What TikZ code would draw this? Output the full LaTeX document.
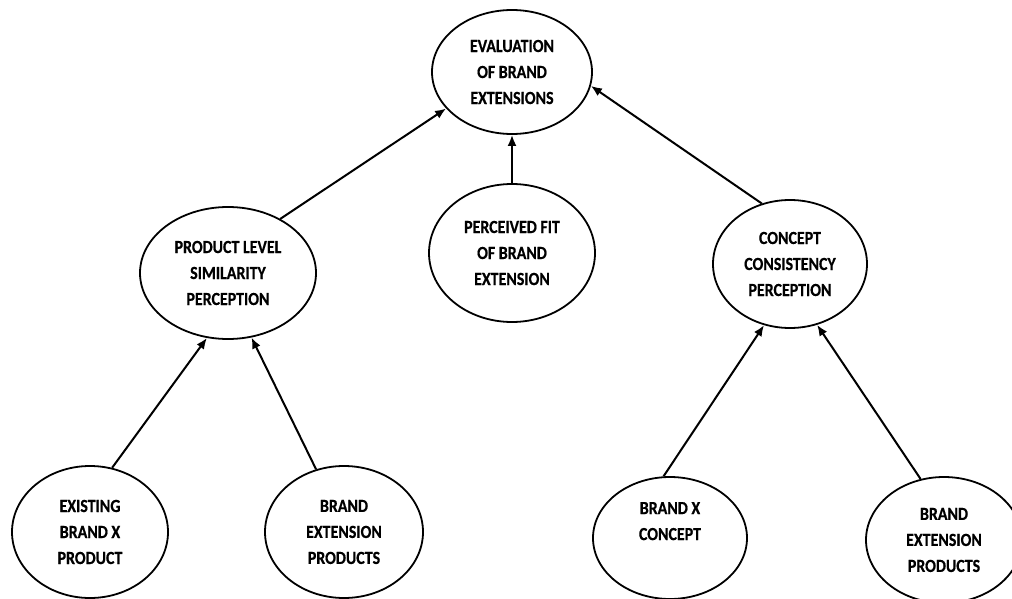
\documentclass[tikz,border=0pt]{standalone}
\usepackage{fontspec}
\setmainfont{Carlito}[FakeStretch=0.86]
\newfontfamily\labelfont{Carlito}[FakeStretch=0.86,FakeBold=0.6,BoldFont={* Bold}]
\usetikzlibrary{shapes.geometric,arrows.meta}
\begin{document}
\begin{tikzpicture}[x=1pt,y=-1pt,
  bubble/.style={draw, ellipse, line width=1.8pt, inner sep=0pt,
    align=center, font=\labelfont\fontsize{18.5}{26}\selectfont\bfseries},
  link/.style={line width=2pt, -{Latex[length=11pt,width=9pt]}}]
\useasboundingbox (0,0) rectangle (1012,599);

% top level
\node[bubble, minimum width=160pt, minimum height=124pt] (eval) at (512,72)
  {EVALUATION\\OF BRAND\\EXTENSIONS};

% middle level
\node[bubble, minimum width=176pt, minimum height=132pt] (prod) at (228,273)
  {PRODUCT LEVEL\\SIMILARITY\\PERCEPTION};
\node[bubble, minimum width=166pt, minimum height=138pt] (fit) at (512,253)
  {PERCEIVED FIT\\OF BRAND\\EXTENSION};
\node[bubble, minimum width=154pt, minimum height=128pt] (conc) at (790,264)
  {CONCEPT\\CONSISTENCY\\PERCEPTION};

% bottom level
\node[bubble, minimum width=156pt, minimum height=132pt] (exist) at (90,532)
  {EXISTING\\BRAND X\\PRODUCT};
\node[bubble, minimum width=158pt, minimum height=132pt] (extA) at (344,532)
  {BRAND\\EXTENSION\\PRODUCTS};
\node[bubble, minimum width=154pt, minimum height=122pt] (bxc) at (670,538)
  {BRAND X\\CONCEPT\\\strut};
\node[bubble, minimum width=156pt, minimum height=126pt] (extB) at (944,540)
  {BRAND\\EXTENSION\\PRODUCTS};

% connectors
\draw[link] (prod.46.5) -- (eval.209);
\draw[link] (fit.north) -- (eval.south);
\draw[link] (conc.115.8) -- (eval.350);
\draw[link] (exist.71.3) -- (prod.252.3);
\draw[link] (extA.114) -- (prod.290.3);
\draw[link] (bxc.96.5) -- (conc.247.4);
\draw[link] (extB.111) -- (conc.294);
\end{tikzpicture}
\end{document}
